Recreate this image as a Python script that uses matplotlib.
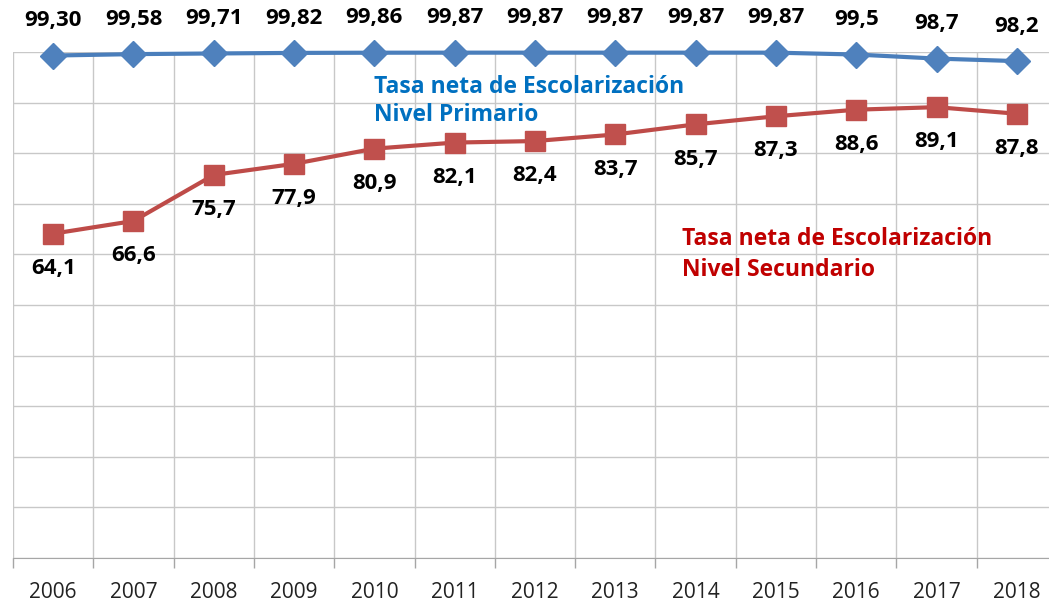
import matplotlib.pyplot as plt
import numpy as np

years = ['2006', '2007', '2008', '2009', '2010', '2011', '2012',
         '2013', '2014', '2015', '2016', '2017', '2018']
primaria = [99.30, 99.58, 99.71, 99.82, 99.86, 99.87, 99.87,
            99.87, 99.87, 99.87, 99.5, 98.7, 98.2]
primaria_labels = ['99,30', '99,58', '99,71', '99,82', '99,86', '99,87', '99,87',
                   '99,87', '99,87', '99,87', '99,5', '98,7', '98,2']
secundaria = [64.1, 66.6, 75.7, 77.9, 80.9, 82.1, 82.4,
              83.7, 85.7, 87.3, 88.6, 89.1, 87.8]
secundaria_labels = ['64,1', '66,6', '75,7', '77,9', '80,9', '82,1', '82,4',
                     '83,7', '85,7', '87,3', '88,6', '89,1', '87,8']

plt.rcParams['font.family'] = ['Open Sans', 'DejaVu Sans']

fig = plt.figure(figsize=(10.49, 6.02), dpi=100)
# the plot area runs a bit past the right edge of the picture
ax = fig.add_axes([13 / 1049, 44 / 602, 1044 / 1049, 506 / 602])

x = np.arange(len(years))
ax.plot(x, primaria, color='#4A7EBB', lw=3, marker='D', ms=13,
        markerfacecolor='#4F81BD', markeredgecolor='#4F81BD', zorder=3, clip_on=False)
ax.plot(x, secundaria, color='#BE4B48', lw=3, marker='s', ms=14,
        markerfacecolor='#C0504D', markeredgecolor='#C0504D', zorder=3, clip_on=False)

for xi, v, s in zip(x, primaria, primaria_labels):
    ax.annotate(s, (xi, v), xytext=(0, 25), textcoords='offset points',
                ha='center', va='center', fontsize=16, fontweight='bold', color='black')
for xi, v, s in zip(x, secundaria, secundaria_labels):
    ax.annotate(s, (xi, v), xytext=(0, -25), textcoords='offset points',
                ha='center', va='center', fontsize=16, fontweight='bold', color='black')

ax.text(3.99, 90.3, 'Tasa neta de Escolarización\nNivel Primario', color='#0070C0',
        fontsize=16.5, fontweight='bold', ha='left', va='center', linespacing=1.25)
ax.text(7.83, 60.0, 'Tasa neta de Escolarización\nNivel Secundario', color='#C00000',
        fontsize=16.5, fontweight='bold', ha='left', va='center', linespacing=1.35)

ax.set_xlim(-0.5, len(years) - 0.5)
ax.set_ylim(0, 100)
ax.set_yticks(np.arange(0, 101, 10))
ax.set_yticklabels([])
ax.tick_params(axis='y', length=0)

ax.set_xticks(x)
ax.set_xticklabels(years, fontsize=15, color='#222222')
ax.set_xticks(np.arange(-0.5, len(years), 1), minor=True)
ax.tick_params(axis='x', which='major', length=0, pad=17)
ax.tick_params(axis='x', which='minor', length=7, color='#A6A6A6', width=1)

ax.grid(True, axis='y', which='major', color='#C8C8C8', lw=1)
ax.grid(True, axis='x', which='minor', color='#C8C8C8', lw=1)
ax.set_axisbelow(True)
for side in ['top', 'right', 'left']:
    ax.spines[side].set_visible(False)
ax.spines['bottom'].set_color('#A6A6A6')

fig.savefig('out.png', dpi=100)
